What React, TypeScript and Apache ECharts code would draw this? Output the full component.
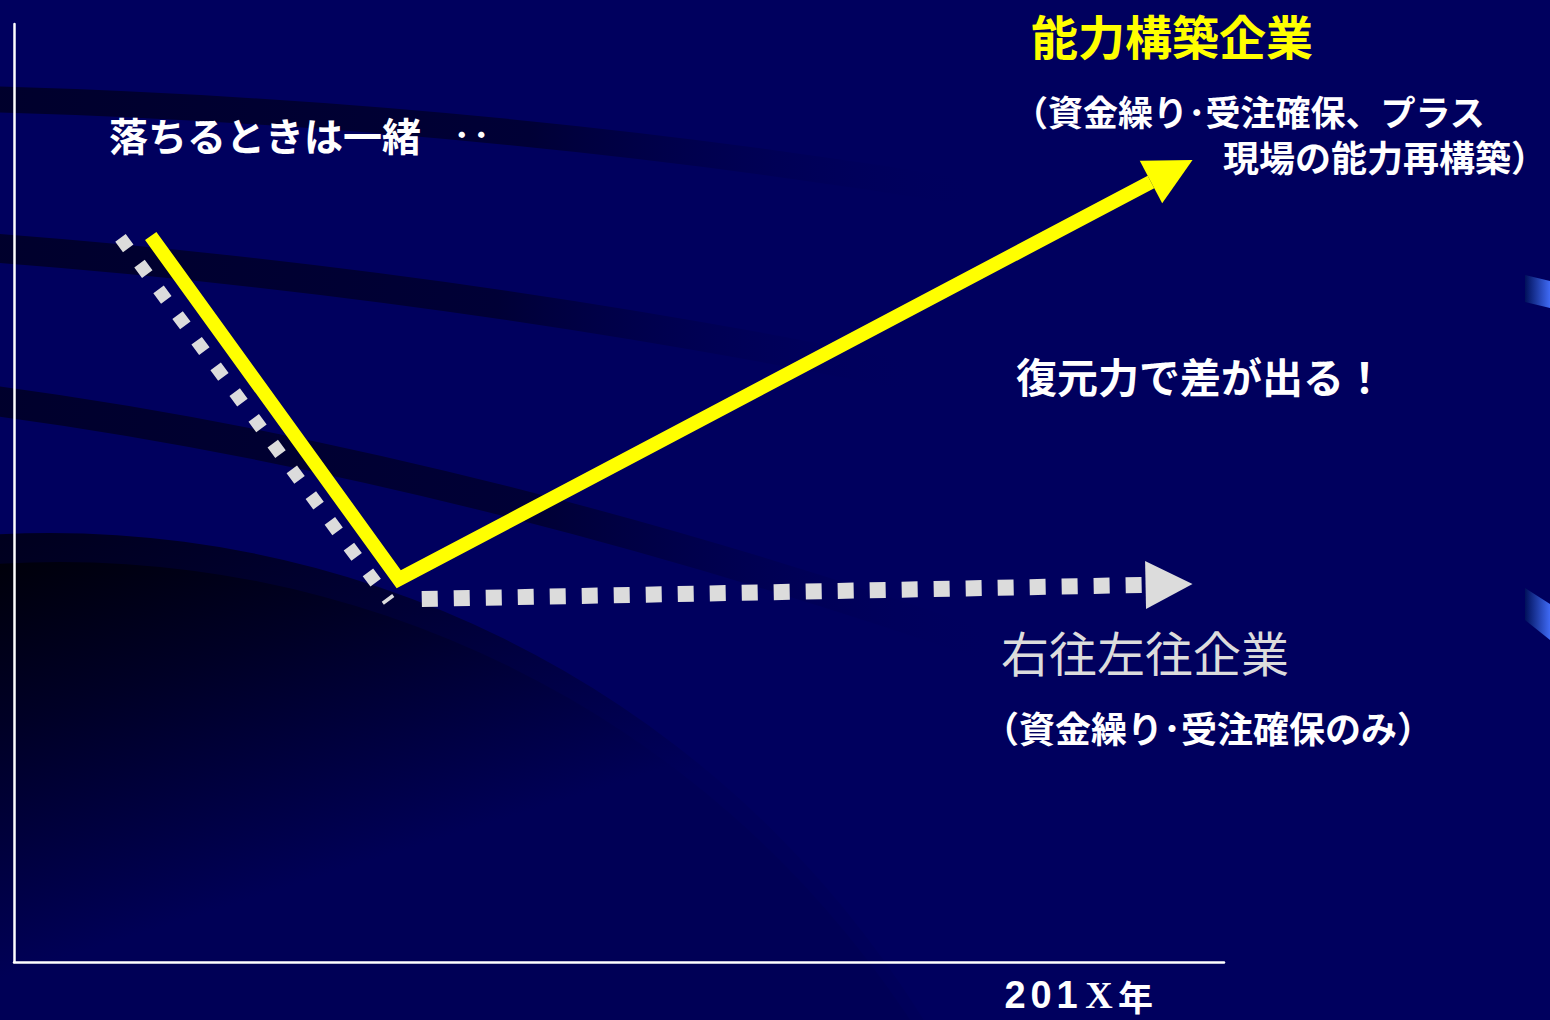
import React, { useEffect, useRef } from "react";
import * as echarts from "echarts";

// Plot space: x 0..100 (time), y 0..100 (performance index)
const xRange = [0, 100];
const yRange = [0, 100];

// 能力構築企業 (yellow): fall, then strong recovery
const capabilityLine: number[][] = [
  [11.3, 77.4],
  [31.8, 40.8],
  [97.4, 85.5],
];
// 右往左往企業 (grey dotted): fall, then flat
const stagnantDrop: number[][] = [
  [8.8, 77.2],
  [31.0, 38.5],
];
const stagnantFlat: number[][] = [
  [33.7, 38.7],
  [97.4, 40.3],
];

const BG = "#00005e";
const JP = '"Noto Sans CJK JP", "Noto Sans", sans-serif';

function arrowRender(
  line: number[][],
  color: string,
  width: number,
  dash: number[] | null,
  head: boolean
) {
  return (params: any, api: any) => {
    const pts = line.map((p) => api.coord(p));
    const children: any[] = [];
    let shaft = pts.slice();
    if (head) {
      const n = pts.length;
      const tip = pts[n - 1];
      const prev = pts[n - 2];
      const dx = tip[0] - prev[0];
      const dy = tip[1] - prev[1];
      const len = Math.sqrt(dx * dx + dy * dy);
      const ux = dx / len;
      const uy = dy / len;
      const L = 47;
      const W = 24;
      const bx = tip[0] - ux * L;
      const by = tip[1] - uy * L;
      shaft = pts.slice(0, n - 1).concat([[bx, by]]);
      children.push({
        type: "polygon",
        shape: {
          points: [
            [tip[0], tip[1]],
            [bx - uy * W, by + ux * W],
            [bx + uy * W, by - ux * W],
          ],
        },
        style: { fill: color },
        z2: 2,
      });
    }
    children.unshift({
      type: "polyline",
      shape: { points: shaft },
      style: {
        stroke: color,
        lineWidth: width,
        fill: "none",
        lineDash: dash || undefined,
        lineCap: "butt",
        lineJoin: "miter",
      },
      z2: 1,
    });
    return { type: "group", children };
  };
}

function lg(x: number, y: number, x2: number, y2: number, stops: [number, string][], global = false) {
  return new (echarts.graphic as any).LinearGradient(
    x,
    y,
    x2,
    y2,
    stops.map(([offset, color]) => ({ offset, color })),
    global
  );
}

export default function App() {
  const ref = useRef<HTMLDivElement>(null);
  useEffect(() => {
    if (!ref.current) return;
    const chart = echarts.init(ref.current, undefined, { renderer: "svg" });

    const band = (x1: number, y1: number, cx: number, cy: number, x2: number, y2: number, w: number) => ({
      type: "bezierCurve",
      silent: true,
      z: -10,
      shape: { x1, y1, cpx1: cx, cpy1: cy, x2, y2 },
      style: {
        stroke: lg(0, 0, 1, 0, [
          [0, "#00002c"],
          [0.55, "#000036"],
          [1, "rgba(0,0,94,0)"],
        ]),
        lineWidth: w,
        fill: "none",
      },
    });

    const text = (
      str: string,
      x: number,
      y: number,
      size: number,
      color: string,
      weight: string = "bold"
    ) => ({
      type: "text",
      x,
      y,
      z: 20,
      silent: true,
      style: {
        text: str,
        fill: color,
        fontSize: size,
        fontFamily: JP,
        fontWeight: weight,
        textAlign: "left",
        textVerticalAlign: "middle",
        verticalAlign: "middle",
      },
    });

    const digit = {
      fontFamily: '"Liberation Sans", Arial, sans-serif',
      fontWeight: "bold",
      fontSize: 38,
      lineHeight: 34,
      fill: "#ffffff",
      color: "#ffffff",
      width: 26,
      align: "center",
    };

    chart.setOption({
      animation: false,
      backgroundColor: BG,
      grid: { left: 14, right: 326, top: 24, bottom: 58, containLabel: false },
      xAxis: {
        type: "value",
        min: xRange[0],
        max: xRange[1],
        axisLine: { show: true, onZero: false, lineStyle: { color: "#ffffff", width: 2.5 } },
        axisTick: { show: false },
        axisLabel: { show: false },
        splitLine: { show: false },
      },
      yAxis: {
        type: "value",
        min: yRange[0],
        max: yRange[1],
        axisLine: { show: true, onZero: false, lineStyle: { color: "#ffffff", width: 2.5 } },
        axisTick: { show: false },
        axisLabel: { show: false },
        splitLine: { show: false },
      },
      graphic: [
        // dark bottom-left region
        {
          type: "circle",
          silent: true,
          z: -12,
          shape: { cx: 50, cy: 1560, r: 1027 },
          style: {
            fill: lg(0, 535, 130, 950, [
              [0, "#00001e"],
              [0.45, "#000036"],
              [1, "#00005a"],
            ], true),
          },
        },
        {
          type: "circle",
          silent: true,
          z: -11,
          shape: { cx: 60, cy: 1580, r: 1018 },
          style: {
            fill: lg(0, 560, 120, 940, [
              [0, "#00000a"],
              [0.4, "#000026"],
              [1, "#000056"],
            ], true),
          },
        },
        band(-20, 99, 480, 112, 980, 194, 26),
        band(-20, 247, 450, 282, 920, 378, 29),
        band(-20, 399, 450, 460, 1000, 650, 30),
        // blue slivers at right edge
        {
          type: "polygon",
          silent: true,
          z: -9,
          shape: { points: [[1525, 275], [1550, 281], [1550, 308], [1525, 302]] },
          style: { fill: lg(0, 0, 1, 0, [[0, "#00105a"], [1, "#3f6af5"]]) },
        },
        {
          type: "polygon",
          silent: true,
          z: -9,
          shape: { points: [[1525, 588], [1550, 604], [1550, 640], [1525, 620]] },
          style: { fill: lg(0, 0, 1, 0, [[0, "#00105a"], [1, "#3f6af5"]]) },
        },
        text("落ちるときは一緒", 109, 134, 39, "#ffffff"),
        text("‥", 452, 132, 39, "#ffffff"),
        text("能力構築企業", 1031, 34, 47, "#ffff00"),
        text("（資金繰り･受注確保、プラス", 1013, 110, 35, "#ffffff"),
        text("現場の能力再構築）", 1223, 156, 36, "#ffffff"),
        text("復元力で差が出る！", 1016, 375, 41, "#ffffff"),
        text("右往左往企業", 1001, 651, 48, "#dcdcdc", "normal"),
        text("（資金繰り･受注確保のみ）", 983, 727, 36, "#ffffff"),
        {
          type: "text",
          x: 1002,
          y: 995,
          z: 20,
          silent: true,
          style: {
            text: "{d|2}{d|0}{d|1}{b|X}{c|年}",
            textAlign: "left",
            textVerticalAlign: "middle",
            verticalAlign: "middle",
            fill: "#ffffff",
            rich: {
              d: digit,
              b: { fontFamily: '"Liberation Serif", serif', fontWeight: "bold", fontSize: 38, lineHeight: 34, fill: "#ffffff", color: "#ffffff", width: 38, align: "center" },
              c: { fontFamily: JP, fontWeight: "bold", fontSize: 35, lineHeight: 34, fill: "#ffffff", color: "#ffffff" },
            },
          },
        },
      ],
      series: [
        {
          type: "custom",
          name: "右往左往企業（下落）",
          coordinateSystem: "cartesian2d",
          data: [stagnantDrop[0]],
          silent: true,
          z: 3,
          renderItem: arrowRender(stagnantDrop, "#dcdcdc", 13, [13, 19], false),
        },
        {
          type: "custom",
          name: "右往左往企業",
          coordinateSystem: "cartesian2d",
          data: [stagnantFlat[0]],
          silent: true,
          z: 3,
          renderItem: arrowRender(stagnantFlat, "#dcdcdc", 16, [16, 16], true),
        },
        {
          type: "custom",
          name: "能力構築企業",
          coordinateSystem: "cartesian2d",
          data: [capabilityLine[0]],
          silent: true,
          z: 4,
          renderItem: arrowRender(capabilityLine, "#ffff00", 14, null, true),
        },
      ],
    });
    return () => chart.dispose();
  }, []);
  return (
    <div
      ref={ref}
      style={{ position: "fixed", left: 0, top: 0, width: 1550, height: 1020 }}
    />
  );
}
